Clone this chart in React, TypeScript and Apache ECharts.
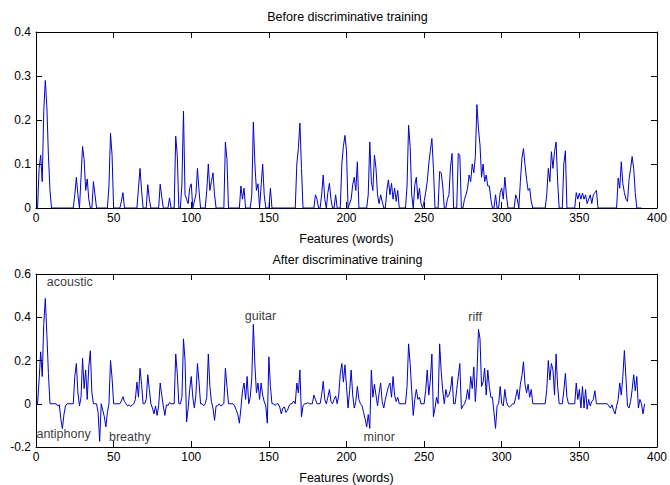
import React, { useEffect, useRef } from "react";
import * as echarts from "echarts";

const beforeTitle = "Before discriminative training";
const afterTitle = "After discriminative training";
const xAxisLabel = "Features (words)";

const xTickValues = [0, 50, 100, 150, 200, 250, 300, 350, 400];
const beforeYTicks = [0, 0.1, 0.2, 0.3, 0.4];
const afterYTicks = [-0.2, 0, 0.2, 0.4, 0.6];

// Before discriminative training: [feature index, weight]
const beforeTraining: [number, number][] = [
  [0,0],[1,0],[2,0.09],[3,0.12],[4,0.06],[5,0.22],[6,0.29],[7,0.23],[8,0.12],[9,0.04],[10,0],
  [24,0],[25,0.03],[26,0.07],[27,0.03],[28,0],[29,0.07],[30,0.14],[31,0.11],[32,0.04],[33,0.066],[34,0.02],[35,0],
  [36,0],[37,0.06],[38,0.03],[39,0],
  [46,0],[47,0.05],[48,0.17],[49,0.12],[50,0],
  [54,0],[55,0.015],[56,0.035],[57,0],
  [65,0],[66,0.045],[67,0.09],[68,0.04],[69,0],
  [71,0],[72,0.053],[73,0.02],[74,0],
  [79,0],[80,0.054],[81,0.025],[82,0],
  [85,0],[86,0.023],[87,0],
  [89,0],[90,0.163],[91,0.12],[92,0],
  [93,0],[94,0.055],[95,0.22],[96,0.03],[97,0.02],[98,0.01],[99,0.045],[100,0.055],[101,0],
  [103,0.03],[104,0.09],[105,0.04],[106,0],
  [109,0],[110,0.04],[111,0.1],[112,0.04],[113,0.06],[114,0.08],[115,0.03],[116,0],
  [121,0],[122,0.15],[123,0.11],[124,0],
  [131,0],[132,0.05],[133,0.02],[134,0.045],[135,0],
  [138,0],[139,0.03],[140,0.195],[141,0.1],[142,0.04],[143,0.055],[144,0],[145,0.05],[146,0.1],[147,0.03],[148,0],
  [150,0],[151,0.045],[152,0],
  [167,0],[168,0.1],[169,0.135],[170,0.193],[171,0.09],[172,0],
  [179,0],[180,0.03],[181,0.02],[182,0],
  [183,0],[184,0.03],[185,0.075],[186,0.02],[187,0],[188,0.035],[189,0.056],[190,0.02],[191,0],
  [192,0],[193,0.03],[194,0],
  [196,0],[197,0.1],[198,0.14],[199,0.165],[200,0.13],[201,0],
  [203,0.02],[204,0.053],[205,0.07],[206,0.04],[207,0.105],[208,0],
  [213,0],[214,0.03],[215,0.15],[216,0.06],[217,0.04],[218,0.12],[219,0.09],[220,0.03],[221,0.01],[222,0.03],[223,0.015],[224,0],
  [225,0],[226,0.04],[227,0.064],[228,0.03],[229,0.056],[230,0.02],[231,0.045],[232,0.015],[233,0.04],[234,0],
  [238,0],[239,0.05],[240,0.188],[241,0.14],[242,0.03],[243,0],[244,0.053],[245,0.07],[246,0.02],[247,0.045],[248,0.01],[249,0],
  [250,0.015],[251,0.035],[252,0.06],[253,0.1],[254,0.13],[255,0.158],[256,0.09],[257,0],
  [259,0],[260,0.083],[261,0.08],[262,0.05],[263,0],
  [264,0],[265,0.02],[266,0.03],[267,0.094],[268,0.124],[269,0],
  [271,0],[272,0.124],[273,0.12],[274,0],
  [275,0],[276,0.02],[277,0.03],[278,0.045],[279,0.075],[280,0.06],[281,0.1],[282,0.08],[283,0.117],[284,0.235],[285,0.18],[286,0.143],[287,0.07],[288,0.1],[289,0.06],[290,0.075],[291,0.05],[292,0.05],[293,0.02],[294,0],
  [295,0],[296,0.03],[297,0],
  [298,0],[299,0.035],[300,0.045],[301,0.02],[302,0.07],[303,0.03],[304,0],
  [308,0],[309,0.03],[310,0.02],[311,0],[312,0.06],[313,0.113],[314,0.135],[315,0.098],[316,0.065],[317,0.04],[318,0.045],[319,0.015],[320,0],
  [328,0],[329,0.03],[330,0.09],[331,0.06],[332,0.128],[333,0.09],[334,0.128],[335,0.15],[336,0.06],[337,0],
  [339,0],[340,0.1],[341,0.13],[342,0],
  [347,0],[348,0.035],[349,0.02],[350,0.034],[351,0.02],[352,0.034],[353,0.02],[354,0.03],[355,0.01],[356,0.02],[357,0.03],[358,0.01],[359,0.03],[360,0.035],[361,0.04],[362,0],
  [374,0],[375,0.068],[376,0.045],[377,0.105],[378,0.055],[379,0.035],[380,0.02],[381,0.015],[382,0.065],[383,0.09],[384,0.117],[385,0.09],[386,0.035],[387,0],[390,0],
];

// After discriminative training: [feature index, weight]
const afterTraining: [number, number][] = [
  [0,0],[1,0],[2,0.11],[3,0.24],[4,0.126],[5,0.367],[6,0.487],[7,0.32],[8,0.14],[9,0],
  [13,0],[14,-0.01],[15,-0.005],[16,-0.07],[17,-0.115],[18,-0.05],[19,-0.01],[20,0],
  [24,0],[25,0.126],[26,0.186],[27,0.05],[28,-0.01],[29,0.03],[30,0.21],[31,0.07],[32,0.156],[33,0.02],[34,0.17],[35,0.245],[36,0.05],[37,0],
  [39,0],[40,-0.04],[41,-0.174],[42,0],[43,-0.03],[44,-0.06],[45,-0.107],[46,-0.04],[47,0],[48,0.2],[49,0.12],[50,0],
  [54,0],[55,0.013],[56,0.033],[57,0.01],[58,0],[59,-0.01],[60,-0.005],[61,-0.013],[62,-0.005],[63,0],
  [64,0.02],[65,0.1],[66,0.03],[67,0.164],[68,0.09],[69,0],[70,0],[71,0.02],[72,0.134],[73,0.066],[74,0],[75,-0.02],[76,-0.047],[77,-0.01],[78,-0.054],[79,-0.01],[80,0.096],[81,0.04],[82,-0.01],[83,-0.054],[84,-0.005],[85,-0.008],[86,0.005],[87,0],
  [89,0],[90,0.23],[91,0.14],[92,0],[93,0],[94,0.03],[95,0.3],[96,0.2],[97,-0.084],[98,-0.02],[99,0.066],[100,0.126],[101,0.03],[102,-0.02],[103,0.04],[104,0.186],[105,0.1],[106,0],
  [107,0],[108,-0.01],[109,0],
  [110,0.03],[111,0.23],[112,0.08],[113,0.01],[114,-0.02],[115,-0.077],[116,-0.01],[117,-0.01],[118,0],[119,-0.01],[120,-0.005],[121,0],[122,0.164],[123,0.08],[124,0],
  [127,0],[128,-0.01],[129,-0.03],[130,-0.05],[131,-0.09],[132,-0.02],[133,0.06],[134,0.096],[135,0.02],[136,0.126],[137,0],[138,0.03],[139,0.12],[140,0.367],[141,0.18],[142,0.05],[143,0.096],[144,0.02],[145,0.096],[146,0.04],[147,0.01],[148,-0.01],[149,-0.09],[150,0.217],[151,0.08],[152,0],[153,0],[154,-0.008],[155,0],[156,0],[157,-0.015],[158,-0.047],[159,-0.02],[160,-0.015],[161,-0.04],[162,-0.03],[163,-0.01],[164,0],[165,0],[166,0.013],[167,0],[168,0.096],[169,0.05],[170,0.156],[171,-0.06],[172,-0.01],[173,0],[174,0],[175,0.005],[176,0],
  [178,0],[179,0.04],[180,0.02],[181,0],
  [183,0],[184,0.04],[185,0.104],[186,0.02],[187,0],[188,0.03],[189,0.066],[190,0.01],[191,0],[192,0.02],[193,0.036],[194,0],[195,0.04],[196,0.14],[197,0.186],[198,0.1],[199,0.18],[200,0.08],[201,-0.02],[202,0.06],[203,0.156],[204,0.04],[205,-0.02],[206,0.01],[207,0.08],[208,0.02],[209,0],[210,-0.01],[211,-0.04],[212,-0.07],[213,-0.107],[214,-0.05],[215,-0.114],[216,0.156],[217,0.03],[218,0.09],[219,0.04],[220,-0.01],[221,0.05],[222,0.096],[223,0.01],[224,-0.02],[225,0.02],[226,0.05],[227,0.08],[228,0.096],[229,0.03],[230,0.126],[231,0.04],[232,0.01],[233,0.03],[234,0],
  [238,0],[239,0.08],[240,0.277],[241,0.186],[242,0.06],[243,-0.054],[244,0.02],[245,0.066],[246,0.02],[247,0.03],[248,0],
  [250,0],[251,0.06],[252,0.156],[253,0.04],[254,0.11],[255,0.23],[256,-0.06],[257,-0.02],[258,0.03],[259,0],[260,0.277],[261,0.15],[262,0.06],[263,0],[264,0.066],[265,0.03],[266,0.04],[267,0.066],[268,0.126],[269,0],[270,0],[271,0.066],[272,0.126],[273,0.186],[274,-0.024],[275,-0.01],
  [276,0],[277,0.02],[278,0.066],[279,0.02],[280,0.126],[281,0.07],[282,0.17],[283,0.01],[284,0.126],[285,0.344],[286,0.3],[287,0.08],[288,0.1],[289,0.164],[290,0.04],[291,0.156],[292,0.08],[293,0.03],[294,0.03],[295,-0.04],[296,-0.114],[297,-0.01],[298,0],[299,0.08],[300,0],[301,-0.01],[302,0.066],[303,0.01],[304,-0.01],[305,-0.015],[306,-0.01],[307,0],[308,0],[309,0.03],[310,0.066],[311,0.02],[312,0.09],[313,0.13],[314,0.194],[315,0.09],[316,0.05],[317,0.09],[318,0.03],[319,0.066],[320,0],
  [328,0],[329,0.066],[330,0.2],[331,0.11],[332,0.186],[333,0.156],[334,0.04],[335,0.23],[336,0.08],[337,0],
  [339,0],[340,0.06],[341,0.14],[342,0.03],[343,0],
  [347,0],[348,0.096],[349,0.02],[350,0.066],[351,-0.02],[352,0.08],[353,-0.02],[354,0.066],[355,-0.025],[356,0.02],[357,-0.01],[358,0.01],[359,0.02],[360,0.06],[361,0],
  [368,0],[369,-0.01],[370,-0.02],[371,-0.005],[372,-0.03],[373,-0.047],[374,-0.01],[375,0.02],[376,0.096],[377,0.04],[378,0.126],[379,0.246],[380,0.12],[381,-0.01],[382,-0.02],[383,0.01],[384,0.066],[385,0.134],[386,0.06],[387,0.126],[388,-0.02],[389,0.02],[390,0],[391,-0.047],[392,0],
];

// word annotations in the lower plot
const annotationWords = ["acoustic", "guitar", "riff", "antiphony", "breathy", "minor"];
const annotationX = [7, 134.5, 278.5, 0.3, 47, 211];
const annotationY = [0.564, 0.405, 0.4, -0.141, -0.155, -0.155];

const FONT = "'Liberation Sans', Arial, Helvetica, sans-serif";
const LINE_COLOR = "#0000d0";
const TEXT_SIZE = 12.5;
const TICK_SIZE = 12;

const fmt = (v: number) => String(parseFloat(v.toFixed(2)));

function makeX(gridIndex: number, position: "bottom" | "top", showLabel: boolean) {
  return {
    type: "value",
    gridIndex,
    position,
    min: xTickValues[0],
    max: xTickValues[xTickValues.length - 1],
    interval: xTickValues[1] - xTickValues[0],
    axisLine: { show: true, onZero: false, lineStyle: { color: "#000", width: 1 } },
    axisTick: { show: true, inside: true, length: 6, lineStyle: { color: "#000" } },
    axisLabel: {
      show: showLabel,
      margin: 4,
      color: "#000",
      fontFamily: FONT,
      fontSize: TICK_SIZE,
    },
    splitLine: { show: false },
    name: showLabel ? xAxisLabel : "",
    nameLocation: "middle",
    nameGap: 24,
    nameTextStyle: { color: "#000", fontFamily: FONT, fontSize: TEXT_SIZE },
  };
}

function makeY(gridIndex: number, position: "left" | "right", ticks: number[], showLabel: boolean) {
  return {
    type: "value",
    gridIndex,
    position,
    min: ticks[0],
    max: ticks[ticks.length - 1],
    interval: ticks[1] - ticks[0],
    axisLine: { show: true, onZero: false, lineStyle: { color: "#000", width: 1 } },
    axisTick: { show: true, inside: true, length: 6, lineStyle: { color: "#000" } },
    axisLabel: {
      show: showLabel,
      margin: 5,
      color: "#000",
      fontFamily: FONT,
      fontSize: TICK_SIZE,
      formatter: fmt,
    },
    splitLine: { show: false },
  };
}

export default function App() {
  const ref = useRef<HTMLDivElement>(null);

  useEffect(() => {
    if (!ref.current) return;
    const chart = echarts.init(ref.current, null, { renderer: "svg" });
    const textStyle = { fill: "#000", font: `${TEXT_SIZE}px ${FONT}` };
    chart.setOption({
      animation: false,
      backgroundColor: "#fff",
      grid: [
        { left: 36, top: 32, width: 623, height: 176 },
        { left: 36, top: 274, width: 623, height: 176 },
      ],
      xAxis: [
        makeX(0, "bottom", true),
        makeX(0, "top", false),
        makeX(1, "bottom", true),
        makeX(1, "top", false),
      ],
      yAxis: [
        makeY(0, "left", beforeYTicks, true),
        makeY(0, "right", beforeYTicks, false),
        makeY(1, "left", afterYTicks, true),
        makeY(1, "right", afterYTicks, false),
      ],
      graphic: [
        {
          type: "text",
          x: 347.5,
          y: 17,
          style: { ...textStyle, text: beforeTitle, align: "center", verticalAlign: "middle", textAlign: "center", textVerticalAlign: "middle" },
        },
        {
          type: "text",
          x: 347.5,
          y: 260,
          style: { ...textStyle, text: afterTitle, align: "center", verticalAlign: "middle", textAlign: "center", textVerticalAlign: "middle" },
        },
      ],
      series: [
        {
          type: "line",
          xAxisIndex: 0,
          yAxisIndex: 0,
          data: beforeTraining,
          showSymbol: false,
          symbol: "none",
          silent: true,
          lineStyle: { color: LINE_COLOR, width: 1 },
          z: 3,
        },
        {
          type: "line",
          xAxisIndex: 2,
          yAxisIndex: 2,
          data: afterTraining,
          showSymbol: false,
          symbol: "none",
          silent: true,
          lineStyle: { color: LINE_COLOR, width: 1 },
          z: 3,
        },
        {
          type: "scatter",
          xAxisIndex: 2,
          yAxisIndex: 2,
          symbolSize: 0,
          silent: true,
          data: annotationWords.map((w, i) => ({ name: w, value: [annotationX[i], annotationY[i]] })),
          label: {
            show: true,
            position: "inside",
            align: "left",
            verticalAlign: "middle",
            formatter: (p: any) => p.name,
            color: "#000",
            fontFamily: FONT,
            fontSize: TEXT_SIZE,
          },
          z: 4,
        },
      ],
    });
    return () => chart.dispose();
  }, []);

  return (
    <div
      ref={ref}
      style={{ position: "fixed", left: 0, top: 0, width: 670, height: 485, background: "#fff" }}
    />
  );
}
